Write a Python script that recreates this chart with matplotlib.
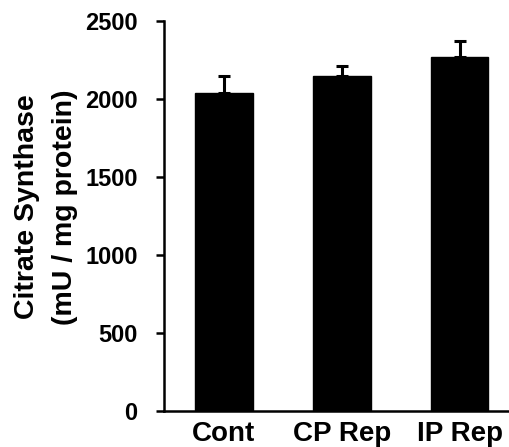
import numpy as np
import matplotlib
matplotlib.use("Agg")
import matplotlib.pyplot as plt

# ---- Daten ----
groups = ["Cont", "CP Rep", "IP Rep"]
cs_mean = [2040, 2150, 2270]   # mU / mg protein
cs_sem = [105, 60, 103]
y_ticks = [0, 500, 1000, 1500, 2000, 2500]

plt.rcParams["font.family"] = ["Liberation Sans", "DejaVu Sans"]

fig = plt.figure(figsize=(5.09, 4.47), dpi=100)
ax = fig.add_axes([0.3222, 0.0805, 0.678, 0.8725])

x = np.arange(len(groups))
ax.bar(x, cs_mean, width=0.49, color="black", edgecolor="black", zorder=2)
ax.errorbar(x, cs_mean, yerr=[np.zeros(len(cs_sem)), cs_sem], fmt="none",
            ecolor="black", elinewidth=2.2, capsize=4.5, capthick=2.2, zorder=1)

ax.set_xlim(-0.508, 2.42)
ax.set_ylim(0, 2500)
ax.set_yticks(y_ticks)
ax.set_xticks(x)
ax.set_xticklabels(groups, fontsize=20, fontweight="bold")
ax.tick_params(axis="x", length=0, pad=7)
ax.tick_params(axis="y", length=6, width=1.8, pad=13, labelsize=17)
for lbl in ax.get_yticklabels():
    lbl.set_fontweight("bold")

for side in ["top", "right"]:
    ax.spines[side].set_visible(False)
for side in ["left", "bottom"]:
    ax.spines[side].set_linewidth(1.8)

# Achsentitel frei positioniert (zweizeilig, zentriert)
fig.text(46 / 509, 1 - 207 / 447, "Citrate Synthase\n(mU / mg protein)",
         rotation=90, ha="center", va="center", multialignment="center",
         fontsize=20.5, fontweight="bold", linespacing=1.55)

fig.savefig("out.png", dpi=100)
